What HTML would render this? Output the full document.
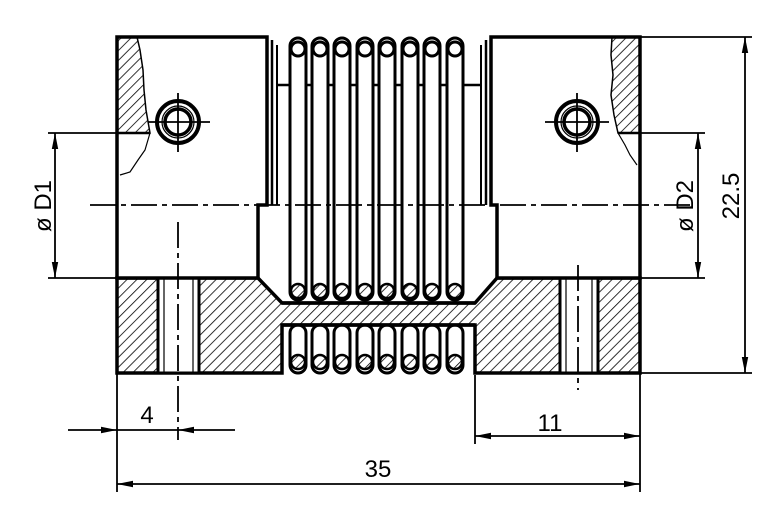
<!DOCTYPE html>
<html><head><style>
html,body{margin:0;padding:0;background:#fff;}
svg{display:block;}
text{font-family:"Liberation Sans",sans-serif;font-size:24px;fill:#000;}
</style></head><body>
<svg width="780" height="520" viewBox="0 0 780 520" xmlns="http://www.w3.org/2000/svg">
<defs>
<pattern id="h" patternUnits="userSpaceOnUse" width="7" height="7" patternTransform="rotate(45)">
<line x1="0" y1="0" x2="0" y2="7" stroke="#000" stroke-width="1.6"/>
</pattern>
<marker id="a" markerWidth="16" markerHeight="8" refX="16" refY="4" orient="auto" markerUnits="userSpaceOnUse">
<path d="M0,0.8 L16,4 L0,7.2 Z" fill="#000"/>
</marker>
</defs>

<path d="M117,278 L258,278 L282,303 L475,303 L497,278 L640,278 L640,373 L475,373 L475,325 L282,325 L282,373 L117,373 Z" fill="url(#h)" stroke="#000" stroke-width="3.5"/>
<rect x="158" y="278" width="41" height="95" fill="#fff" stroke="#000" stroke-width="3"/>
<line x1="164" y1="278" x2="164" y2="373" stroke="#000" stroke-width="1.2"/>
<line x1="193" y1="278" x2="193" y2="373" stroke="#000" stroke-width="1.2"/>
<rect x="560" y="278" width="38" height="95" fill="#fff" stroke="#000" stroke-width="3"/>
<line x1="566" y1="278" x2="566" y2="373" stroke="#000" stroke-width="1.2"/>
<line x1="592" y1="278" x2="592" y2="373" stroke="#000" stroke-width="1.2"/>

<path d="M117,37 L267,37 L267,205 L258,205 L258,278 L117,278 Z" fill="#fff" stroke="#000" stroke-width="3.5"/>
<path d="M117,37 L137,37 L140,50 L143,70 L144,90 L146,110 L150,133 L117,133 Z" fill="url(#h)" stroke="#000" stroke-width="1.5"/>
<path d="M150,133 L145,150 L138,160 L130,172 L120,175" fill="none" stroke="#000" stroke-width="1.2"/>
<line x1="117" y1="133" x2="150" y2="133" stroke="#000" stroke-width="2.5"/>
<line x1="272" y1="40" x2="272" y2="205" stroke="#000" stroke-width="2.5"/>
<line x1="277" y1="45" x2="277" y2="205" stroke="#000" stroke-width="2"/>
<path d="M491,37 L640,37 L640,278 L497,278 L497,205 L491,205 Z" fill="#fff" stroke="#000" stroke-width="3.5"/>
<path d="M640,37 L612,37 L611,55 L613,75 L611,95 L614,115 L618,133 L640,133 Z" fill="url(#h)" stroke="#000" stroke-width="1.5"/>
<path d="M618,133 L625,145 L630,155 L637,165" fill="none" stroke="#000" stroke-width="1.2"/>
<line x1="618" y1="133" x2="640" y2="133" stroke="#000" stroke-width="2.5"/>
<line x1="486" y1="40" x2="486" y2="205" stroke="#000" stroke-width="2.5"/>
<line x1="481" y1="45" x2="481" y2="205" stroke="#000" stroke-width="2"/>

<line x1="277" y1="85" x2="481" y2="85" stroke="#000" stroke-width="2.5"/>
<g stroke="#000" stroke-width="3" fill="#fff">
<rect x="290" y="38" width="16" height="262" rx="8"/>
<rect x="312" y="38" width="16" height="262" rx="8"/>
<rect x="334" y="38" width="16" height="262" rx="8"/>
<rect x="357" y="38" width="16" height="262" rx="8"/>
<rect x="379" y="38" width="16" height="262" rx="8"/>
<rect x="402" y="38" width="16" height="262" rx="8"/>
<rect x="424" y="38" width="16" height="262" rx="8"/>
<rect x="447" y="38" width="16" height="262" rx="8"/>
<rect x="290" y="325" width="16" height="48" rx="8"/>
<rect x="312" y="325" width="16" height="48" rx="8"/>
<rect x="334" y="325" width="16" height="48" rx="8"/>
<rect x="357" y="325" width="16" height="48" rx="8"/>
<rect x="379" y="325" width="16" height="48" rx="8"/>
<rect x="402" y="325" width="16" height="48" rx="8"/>
<rect x="424" y="325" width="16" height="48" rx="8"/>
<rect x="447" y="325" width="16" height="48" rx="8"/>
</g>
<g stroke="#000" stroke-width="3" fill="#fff">
<circle cx="298" cy="49" r="7"/><circle cx="320" cy="49" r="7"/><circle cx="342" cy="49" r="7"/><circle cx="365" cy="49" r="7"/>
<circle cx="387" cy="49" r="7"/><circle cx="410" cy="49" r="7"/><circle cx="432" cy="49" r="7"/><circle cx="455" cy="49" r="7"/>
</g>
<g stroke="#000" stroke-width="2.5" fill="url(#h)">
<circle cx="298" cy="291" r="7"/><circle cx="320" cy="291" r="7"/><circle cx="342" cy="291" r="7"/><circle cx="365" cy="291" r="7"/>
<circle cx="387" cy="291" r="7"/><circle cx="410" cy="291" r="7"/><circle cx="432" cy="291" r="7"/><circle cx="455" cy="291" r="7"/>
<circle cx="298" cy="362" r="7"/><circle cx="320" cy="362" r="7"/><circle cx="342" cy="362" r="7"/><circle cx="365" cy="362" r="7"/>
<circle cx="387" cy="362" r="7"/><circle cx="410" cy="362" r="7"/><circle cx="432" cy="362" r="7"/><circle cx="455" cy="362" r="7"/>
</g>
<line x1="282" y1="303" x2="475" y2="303" stroke="#000" stroke-width="3.5"/>
<line x1="282" y1="325" x2="475" y2="325" stroke="#000" stroke-width="3.5"/>

<g fill="none" stroke="#000">
<circle cx="178" cy="122" r="21" stroke-width="4"/>
<circle cx="178" cy="122" r="16" stroke-width="1.2"/>
<circle cx="178" cy="122" r="13" stroke-width="3.5"/>
<circle cx="577" cy="122" r="21" stroke-width="4"/>
<circle cx="577" cy="122" r="16" stroke-width="1.2"/>
<circle cx="577" cy="122" r="13" stroke-width="3.5"/>
<path d="M178,93 V152 M148,122 H210 M577,93 V152 M545,122 H609" stroke-width="1.8"/>
</g>

<g stroke="#000" stroke-width="1.8" stroke-dasharray="26,5,5,5">
<line x1="90" y1="205" x2="690" y2="205"/>
<line x1="178" y1="222" x2="178" y2="440"/>
<line x1="578" y1="265" x2="578" y2="390"/>
</g>

<g stroke="#000" stroke-width="1.8" fill="none">
<line x1="48" y1="133" x2="117" y2="133"/>
<line x1="48" y1="278" x2="117" y2="278"/>
<line x1="55" y1="205" x2="55" y2="133" marker-end="url(#a)"/>
<line x1="55" y1="205" x2="55" y2="278" marker-end="url(#a)"/>
<line x1="640" y1="133" x2="705" y2="133"/>
<line x1="640" y1="278" x2="705" y2="278"/>
<line x1="698" y1="205" x2="698" y2="133" marker-end="url(#a)"/>
<line x1="698" y1="205" x2="698" y2="278" marker-end="url(#a)"/>
<line x1="640" y1="37" x2="752" y2="37"/>
<line x1="640" y1="373" x2="752" y2="373"/>
<line x1="745" y1="205" x2="745" y2="37" marker-end="url(#a)"/>
<line x1="745" y1="205" x2="745" y2="373" marker-end="url(#a)"/>
<line x1="117" y1="373" x2="117" y2="492"/>
<line x1="640" y1="373" x2="640" y2="492"/>
<line x1="475" y1="375" x2="475" y2="444"/>
<line x1="68" y1="430" x2="117" y2="430" marker-end="url(#a)"/>
<line x1="235" y1="430" x2="178" y2="430" marker-end="url(#a)"/>
<line x1="117" y1="430" x2="178" y2="430"/>
<line x1="557" y1="436" x2="475" y2="436" marker-end="url(#a)"/>
<line x1="557" y1="436" x2="640" y2="436" marker-end="url(#a)"/>
<line x1="378" y1="484" x2="117" y2="484" marker-end="url(#a)"/>
<line x1="378" y1="484" x2="640" y2="484" marker-end="url(#a)"/>
</g>

<text x="147" y="423" text-anchor="middle">4</text>
<text x="550" y="431" text-anchor="middle">11</text>
<text x="378" y="477" text-anchor="middle">35</text>
<text transform="translate(51,206) rotate(-90)" text-anchor="middle">ø D1</text>
<text transform="translate(693,206) rotate(-90)" text-anchor="middle">ø D2</text>
<text transform="translate(739,196) rotate(-90)" text-anchor="middle">22.5</text>
</svg>
</body></html>
